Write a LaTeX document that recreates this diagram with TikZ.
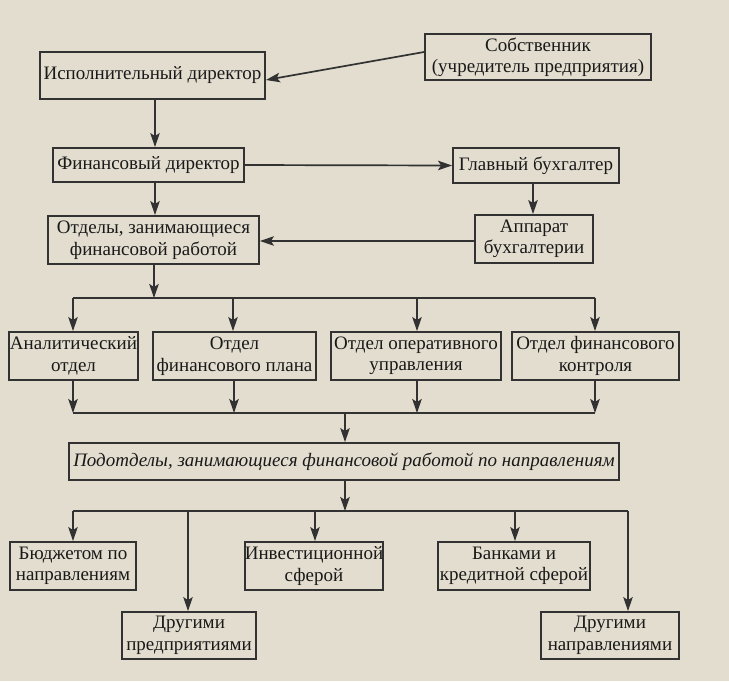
\documentclass[tikz,border=0pt]{standalone}
\usepackage{fontspec}
\setmainfont{Liberation Serif}
\usetikzlibrary{arrows.meta}
\definecolor{bg}{RGB}{226,221,207}
\definecolor{ln}{RGB}{50,50,50}
\definecolor{tx}{RGB}{25,25,25}
\tikzset{
  box/.style={draw=ln, line width=1.9pt, inner sep=0pt, align=center, text=tx,
    font=\fontsize{19}{21.5}\selectfont},
  arr/.style={draw=ln, line width=1.7pt, -{Stealth[length=14pt,width=9.5pt,inset=3pt]}},
  bus/.style={draw=ln, line width=1.7pt}
}
\begin{document}
\begin{tikzpicture}[x=1pt,y=-1pt]
\fill[bg] (0,0) rectangle (729,681);
\useasboundingbox (0,0) rectangle (729,681);
% nodes
\node[box, minimum width=225, minimum height=47] (isp) at (152.5,75.5) {Исполнительный директор};
\node[box, minimum width=226, minimum height=46] (sob) at (538,57) {Собственник\\(учредитель предприятия)};
\node[box, minimum width=191, minimum height=34] (fin) at (148.5,165) {Финансовый директор};
\node[box, minimum width=166, minimum height=35] (glav) at (536,165.5) {Главный бухгалтер};
\node[box, minimum width=211, minimum height=48] (otd) at (153.5,240) {Отделы, занимающиеся\\финансовой работой};
\node[box, minimum width=118, minimum height=48] (app) at (534,239) {Аппарат\\бухгалтерии};
\node[box, minimum width=129, minimum height=48] (anal) at (73.5,356) {Аналитический\\отдел};
\node[box, minimum width=163, minimum height=48] (plan) at (234.5,356) {Отдел\\финансового плана};
\node[box, minimum width=170, minimum height=48] (oper) at (416,356) {Отдел оперативного\\управления};
\node[box, minimum width=167, minimum height=48] (kontr) at (595.5,356) {Отдел финансового\\контроля};
\node[box, minimum width=550, minimum height=37] (pod) at (344,461.5) {\itshape Подотделы, занимающиеся финансовой работой по направлениям};
\node[box, minimum width=126, minimum height=48] (budg) at (73,566) {Бюджетом по\\направлениям};
\node[box, minimum width=138, minimum height=48] (inv) at (314,566) {Инвестиционной\\сферой};
\node[box, minimum width=152, minimum height=48] (bank) at (514,566) {Банками и\\кредитной сферой};
\node[box, minimum width=134, minimum height=47] (drp) at (189,635.5) {Другими\\предприятиями};
\node[box, minimum width=138, minimum height=47] (drn) at (610,635.5) {Другими\\направлениями};
% junction coordinates
\coordinate (b1) at (154,298);
\coordinate (b1l) at (73,298);
\coordinate (b1r) at (595,298);
\coordinate (b2) at (345,413);
\coordinate (b2l) at (73,413);
\coordinate (b2r) at (595,413);
\coordinate (b3) at (345,511);
\coordinate (b3l) at (73,511);
\coordinate (b3r) at (628,511);
% top connectors
\draw[arr] ([yshift=5pt]sob.west) -- ([yshift=-4.5pt]isp.east);
\draw[arr] (isp.south -| 155,0) -- (fin.north -| 155,0);
\draw[arr] (fin.south -| 155,0) -- (otd.north -| 155,0);
\draw[arr] (fin.east) -- (glav.west);
\draw[arr] (glav.south -| 533,0) -- (app.north -| 533,0);
\draw[arr] (app.west |- 0,241) -- (otd.east |- 0,241);
% first bus
\draw[arr] (otd.south -| b1) -- (b1);
\draw[bus] (b1l) -- (b1r);
\draw[arr] (b1l) -- (anal.north -| b1l);
\draw[arr] (b1l -| 233,0) -- (plan.north -| 233,0);
\draw[arr] (b1l -| 417,0) -- (oper.north -| 417,0);
\draw[arr] (b1r) -- (kontr.north -| b1r);
% second bus
\draw[arr] (anal.south -| b2l) -- (b2l);
\draw[arr] (plan.south -| 234,0) -- (b2l -| 234,0);
\draw[arr] (oper.south -| 417,0) -- (b2l -| 417,0);
\draw[arr] (kontr.south -| b2r) -- (b2r);
\draw[bus] (b2l) -- (b2r);
\draw[arr] (b2) -- (pod.north -| b2);
% third bus
\draw[arr] (pod.south -| b3) -- (b3);
\draw[bus] (b3l) -- (b3r);
\draw[arr] (b3l) -- (budg.north -| b3l);
\draw[arr] (b3l -| 188,0) -- (drp.north -| 188,0);
\draw[arr] (b3l -| 315,0) -- (inv.north -| 315,0);
\draw[arr] (b3l -| 515,0) -- (bank.north -| 515,0);
\draw[arr] (b3r) -- (drn.north -| b3r);
\end{tikzpicture}
\end{document}
